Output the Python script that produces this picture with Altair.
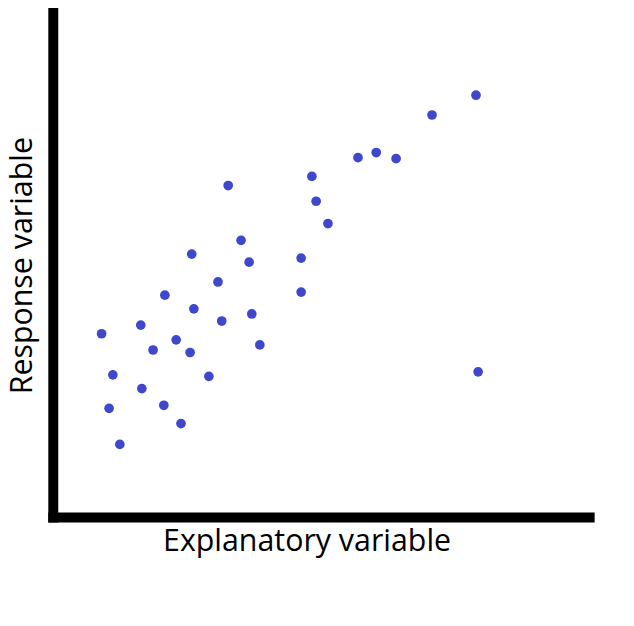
import altair as alt
import pandas as pd

# Arbitrary units (no tick labels in the reference)
explanatory = [9.1, 11.2, 10.5, 12.5, 16.4, 16.6, 18.7, 20.9, 20.7, 23.0, 23.9,
               25.6, 25.9, 26.3, 29.1, 30.8, 31.5, 32.7, 35.1, 36.6, 37.1, 38.6,
               46.3, 46.3, 48.3, 49.1, 51.3, 56.9, 60.3, 64.0, 70.7, 78.9, 79.3]
response = [36.1, 28.0, 21.4, 14.3, 37.8, 25.3, 32.9, 43.7, 22.0, 34.9, 18.4,
            32.4, 51.8, 41.0, 27.7, 46.3, 38.6, 65.3, 54.5, 50.2, 40.0, 33.9,
            51.0, 44.3, 67.1, 62.2, 57.8, 70.8, 71.8, 70.6, 79.2, 83.1, 28.6]

df = pd.DataFrame({"x": explanatory, "y": response})

W, H = 539, 510
FONT = "Open Sans"

chart = (
    alt.Chart(df)
    .mark_circle(size=95, opacity=1, color="#3f48cc")
    .encode(
        x=alt.X(
            "x:Q",
            scale=alt.Scale(domain=[0, 100], nice=False, zero=False),
            axis=alt.Axis(
                title="Explanatory variable",
                labels=False, ticks=False, grid=False,
                domainColor="black", domainWidth=10, domainCap="square",
                titleFont=FONT, titleFontSize=30.5, titleFontWeight="normal",
                titleColor="black", titleX=255, titleY=34,
                titleAlign="center", titleBaseline="alphabetic",
            ),
        ),
        y=alt.Y(
            "y:Q",
            scale=alt.Scale(domain=[0, 100], nice=False, zero=False),
            axis=alt.Axis(
                title="Response variable",
                labels=False, ticks=False, grid=False,
                domainColor="black", domainWidth=10, domainCap="square",
                titleFont=FONT, titleFontSize=30.5, titleFontWeight="normal",
                titleColor="black", titleX=-21, titleY=257, titleAngle=270,
                titleAlign="center", titleBaseline="alphabetic",
            ),
        ),
    )
    .properties(
        width=W, height=H,
        autosize=alt.AutoSizeParams(type="none"),
        padding={"left": 45, "top": 0, "right": 37, "bottom": 80},
        background="white",
    )
    .configure_view(stroke=None)
)

chart.save("out.html", embed_options={"renderer": "svg", "actions": False})
